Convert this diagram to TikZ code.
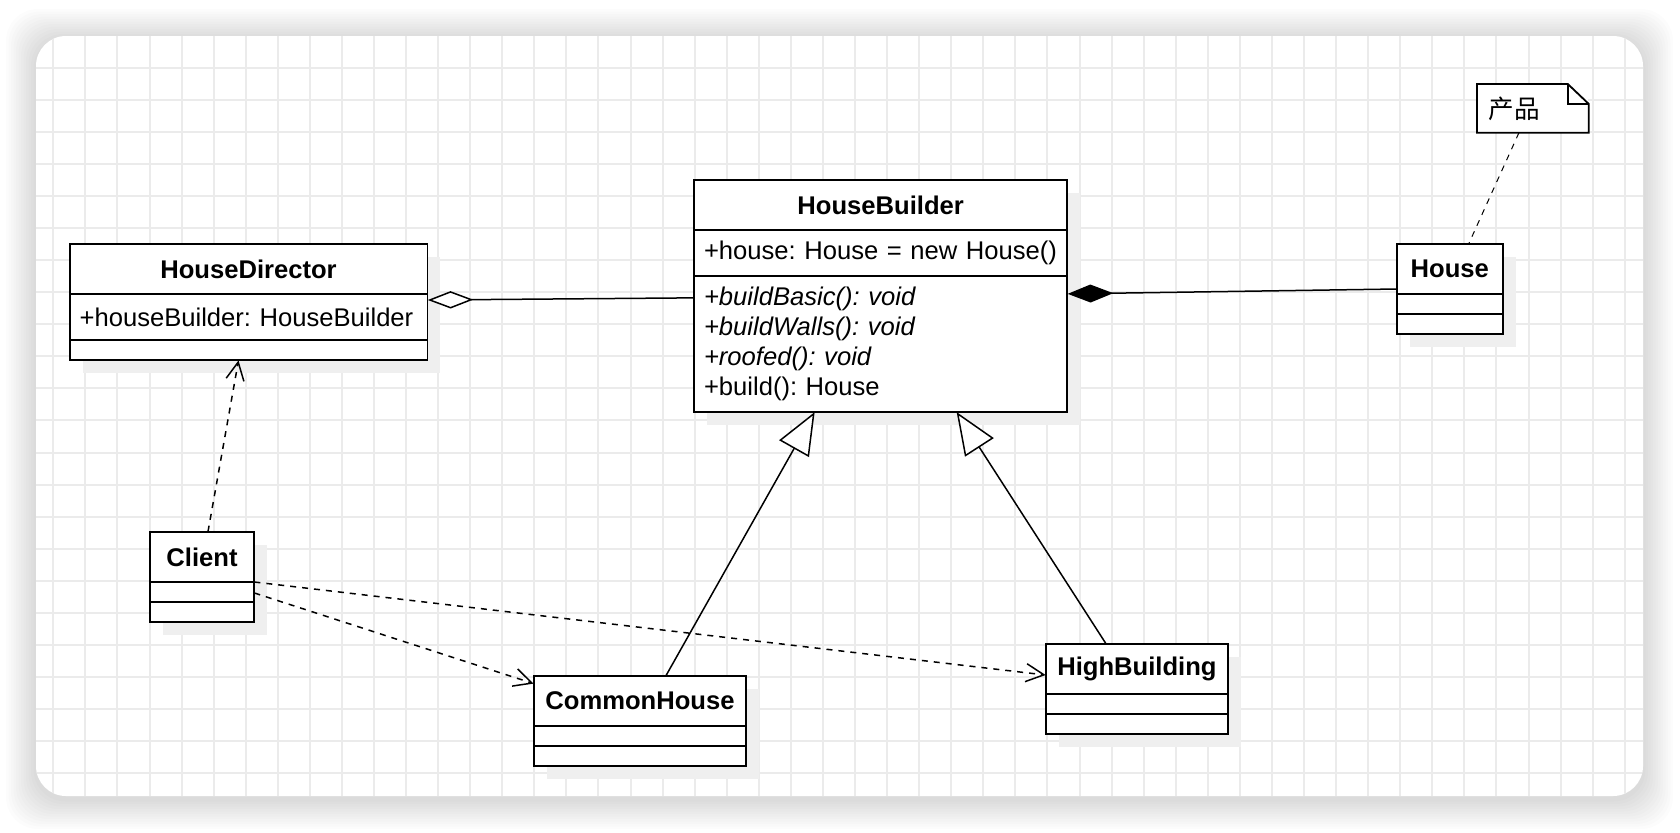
\documentclass[tikz,border=0pt]{standalone}
\usepackage{fontspec}
\setmainfont{Liberation Sans}
\newfontfamily\cjk{Noto Sans CJK SC}
\usepackage{tikz}
\usetikzlibrary{positioning,fit,shadows,arrows.meta}
\definecolor{gridgray}{HTML}{EBEBEB}
\definecolor{shadegray}{HTML}{EFEFEF}

\begin{document}
\fontsize{12.8}{15}\selectfont\frenchspacing
\begin{tikzpicture}[x=0.5pt,y=-0.5pt,
    gridline/.style={gridgray, line width=1pt},
    cls/.style={draw, line width=0.9pt, fill=white, outer sep=0pt, inner ysep=0pt, inner xsep=5pt,
      drop shadow={shadow xshift=6.5pt, shadow yshift=-6.5pt, fill=shadegray, opacity=1}},
    clstitle/.style={cls, minimum height=25pt, font=\bfseries},
    clspart/.style={cls, minimum height=10pt, align=left},
    link/.style={line width=0.75pt},
    dep/.style={link, dash pattern=on 3pt off 3pt, -{Straight Barb[length=9pt,width=9pt]}},
    gen/.style={link, -{Triangle[length=21pt,width=17pt,fill=white]}},
    notebox/.style={fill=white, minimum width=55.5pt, minimum height=24pt, inner xsep=5.5pt, text width=44.5pt, align=left, font=\cjk}]
    \useasboundingbox (0,0) rectangle (1680,832);

    \foreach \i in {1,...,12}
      \fill[black, opacity=0.011, rounded corners=16pt] ({36-2.5*\i},{39-2.5*\i}) rectangle ({1643+2.5*\i},{799+2.5*\i});
    \fill[white, rounded corners=15pt] (36,36) rectangle (1643,796);
    \begin{scope}
      \clip[rounded corners=15pt] (36,36) rectangle (1643,796);
      \foreach \k in {0,...,49}
        \draw[gridline] ({53.3+32.07*\k},36) -- ({53.3+32.07*\k},796);
      \foreach \k in {0,...,22}
        \draw[gridline] (36,{67.7+32.07*\k}) -- (1643,{67.7+32.07*\k});
    \end{scope}

    \node[clstitle, minimum width=178.9pt, anchor=north west] (hdT) at (69.6,244) {HouseDirector};
    \node[clspart, text width=168.9pt, minimum height=23pt, below=0pt of hdT] (hdA) {\mbox{+houseBuilder: HouseBuilder}};
    \node[clspart, minimum width=178.9pt, below=0pt of hdA] (hdM) {};
    \node[fit=(hdT)(hdA)(hdM), inner sep=0pt] (hd) {};

    \node[clstitle, minimum width=186.65pt, anchor=north west] (hbT) at (694,180) {HouseBuilder};
    \node[clspart, text width=176.65pt, minimum height=23pt, below=0pt of hbT] (hbA) {\mbox{+house: House = new House()}};
    \node[clspart, text width=176.65pt, minimum height=67.85pt, below=0pt of hbA] (hbM)
      {\textit{+buildBasic(): void}\\ \textit{+buildWalls(): void}\\ \textit{+roofed(): void}\\ +build(): House};
    \node[fit=(hbT)(hbA)(hbM), inner sep=0pt] (hb) {};

    \node[clstitle, minimum width=52.8pt, anchor=north west] (hsT) at (1397,244) {House};
    \node[clspart, minimum width=52.8pt, below=0pt of hsT] (hsA) {};
    \node[clspart, minimum width=52.8pt, below=0pt of hsA] (hsM) {};
    \node[fit=(hsT)(hsA)(hsM), inner sep=0pt] (hs) {};

    \node[clstitle, minimum width=52pt, anchor=north west] (clT) at (150,532) {Client};
    \node[clspart, minimum width=52pt, below=0pt of clT] (clA) {};
    \node[clspart, minimum width=52pt, below=0pt of clA] (clM) {};
    \node[fit=(clT)(clA)(clM), inner sep=0pt] (cl) {};

    \node[clstitle, minimum width=106pt, anchor=north west] (chT) at (534,676) {CommonHouse};
    \node[clspart, minimum width=106pt, below=0pt of chT] (chA) {};
    \node[clspart, minimum width=106pt, below=0pt of chA] (chM) {};
    \node[fit=(chT)(chA)(chM), inner sep=0pt] (ch) {};

    \node[clstitle, minimum width=90.9pt, anchor=north west] (hiT) at (1046,644) {HighBuilding};
    \node[clspart, minimum width=90.9pt, below=0pt of hiT] (hiA) {};
    \node[clspart, minimum width=90.9pt, below=0pt of hiA] (hiM) {};
    \node[fit=(hiT)(hiA)(hiM), inner sep=0pt] (hi) {};

    \node[notebox, anchor=north west] (note) at (1477,84) {产品};
    \draw[line width=0.9pt] (note.north west) -- ([xshift=-10.5pt]note.north east) -- ([yshift=-10pt]note.north east)
      -- (note.south east) -- (note.south west) -- cycle;
    \draw[line width=0.9pt] ([xshift=-10.5pt]note.north east) -- ([xshift=-10.5pt,yshift=-10pt]note.north east)
      -- ([yshift=-10pt]note.north east);

    \draw[link, -{Diamond[length=22.75pt,width=8.7pt,fill=white]}] ([yshift=-1pt]hb.west) -- ([yshift=1pt]hd.east);
    \draw[link, -{Diamond[length=22.75pt,width=9pt]}] (hs.west) -- ([yshift=1pt]hb.east);
    \draw[dep] ([xshift=3pt]cl.north) -- ([xshift=-5pt]hd.south);
    \draw[dep] ([yshift=-8pt]cl.east) -- ([yshift=-4pt]ch.north west);
    \draw[dep] ([yshift=-2.5pt]cl.east) -- ([yshift=7pt]hi.west);
    \draw[gen] ([xshift=13pt]ch.north) -- ([xshift=-33pt]hb.south);
    \draw[gen] ([xshift=-15.5pt]hi.north) -- ([xshift=38pt]hb.south);
    \draw[line width=0.5pt, dash pattern=on 3pt off 3pt] ([xshift=-7pt]note.south) -- ([xshift=9.5pt]hs.north);
  \end{tikzpicture}
\end{document}
